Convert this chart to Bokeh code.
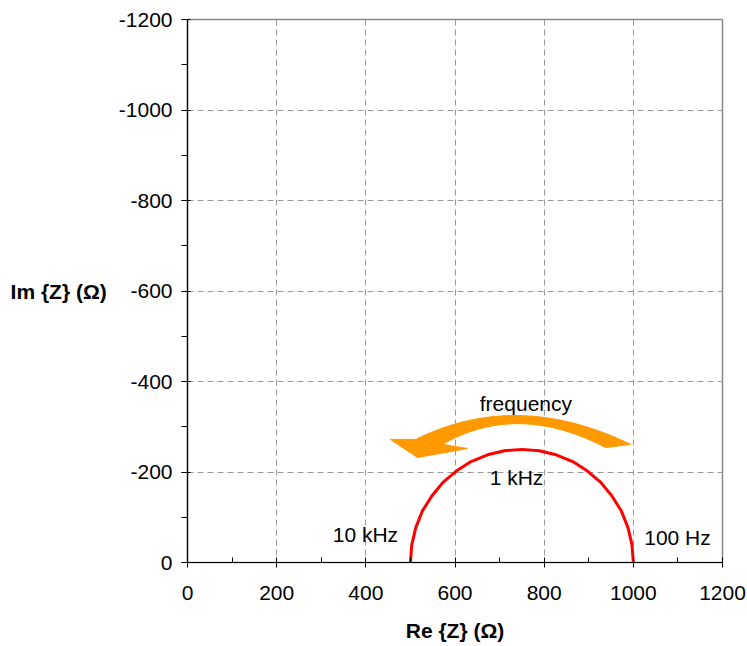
import numpy as np
from bokeh.plotting import figure
from bokeh.models import Range1d, SingleIntervalTicker, CustomJSTickFormatter
from bokeh.core.properties import value
from bokeh.embed import file_html
from bokeh.resources import INLINE

# Nyquist curve points
re_z = [1000, 997, 988, 973, 952, 927, 897, 864, 827, 789, 750,
        711, 673, 636, 603, 573, 548, 527, 512, 503, 500]
im_z = [0, -39, -77, -114, -147, -177, -202, -223, -238, -247, -250,
        -247, -238, -223, -202, -177, -147, -114, -77, -39, 0]

x_ticks = [0, 200, 400, 600, 800, 1000, 1200]
y_ticks = [0, -200, -400, -600, -800, -1000, -1200]

# annotation texts (data coords)
ann_text = ["frequency", "1 kHz", "10 kHz", "100 Hz"]
ann_x = [759, 738, 399, 1099]
ann_y = [-352, -188, -62, -55]

# curved arrow geometry (data coords): bezier edges + arrowhead
outer_p0, outer_p1, outer_p2 = (994, -261), (738, -383), (512, -272)
inner_p0, inner_p1, inner_p2 = (938, -254), (739, -356), (572, -261)
head_left, head_tip, head_right = (455, -272), (516, -232), (628, -252)

FONT = "Liberation Sans"

p = figure(width=747, height=646, output_backend="svg", toolbar_location=None,
           x_range=Range1d(0, 1200), y_range=Range1d(0, -1200),
           min_border_left=187, min_border_top=19, min_border_right=25,
           min_border_bottom=84)

p.outline_line_color = "#888888"
p.outline_line_width = 1.5

fmt = CustomJSTickFormatter(code="return tick.toFixed(0);")

for ax in (p.xaxis[0], p.yaxis[0]):
    ax.ticker = SingleIntervalTicker(interval=200, num_minor_ticks=2)
    ax.formatter = fmt
    ax.axis_line_color = "black"
    ax.axis_line_width = 1.2
    ax.major_tick_line_color = "black"
    ax.minor_tick_line_color = "black"
    ax.major_label_text_font = FONT
    ax.major_label_text_font_size = "21px"
    ax.major_label_text_color = "black"
    ax.axis_label_text_font = FONT
    ax.axis_label_text_font_size = "21px"
    ax.axis_label_text_font_style = "bold"
    ax.axis_label_text_color = "black"

p.xaxis.axis_label = "Re {Z} (Ω)"
p.yaxis.axis_label = "Im {Z} (Ω)"
p.yaxis.axis_label_orientation = "horizontal"

p.xaxis.major_tick_in = 4
p.xaxis.major_tick_out = 5
p.xaxis.minor_tick_in = 5
p.xaxis.minor_tick_out = 0
p.xaxis.major_label_standoff = 18
p.xaxis.axis_label_standoff = 16

p.yaxis.major_tick_in = 3
p.yaxis.major_tick_out = 6
p.yaxis.minor_tick_in = 0
p.yaxis.minor_tick_out = 6
p.yaxis.major_label_standoff = 9
p.yaxis.axis_label_standoff = 9

for g in (p.xgrid[0], p.ygrid[0]):
    g.ticker = SingleIntervalTicker(interval=200)
    g.grid_line_color = "#999999"
    g.grid_line_dash = "6 4"
    g.grid_line_width = 1

# curved arrow
def bez(a, b, c, n=40):
    t = np.linspace(0, 1, n)
    a, b, c = np.array(a), np.array(b), np.array(c)
    return ((1 - t)[:, None] ** 2) * a + (2 * (1 - t) * t)[:, None] * b + (t[:, None] ** 2) * c

outer = bez(outer_p0, outer_p1, outer_p2)
inner = bez(inner_p2, inner_p1, inner_p0)
poly = np.vstack([outer, np.array([head_left, head_tip, head_right]), inner])
p.patch(poly[:, 0], poly[:, 1], fill_color="#FF9900", line_color="#FF9900", line_width=1)

p.line(re_z, im_z, line_color="#FF0000", line_width=3)

p.text(x=ann_x, y=ann_y, text=ann_text, text_font=value(FONT), text_font_size="21px",
       text_align="center", text_baseline="middle", text_color="black")

open("out.html", "w").write(file_html(p, INLINE))
